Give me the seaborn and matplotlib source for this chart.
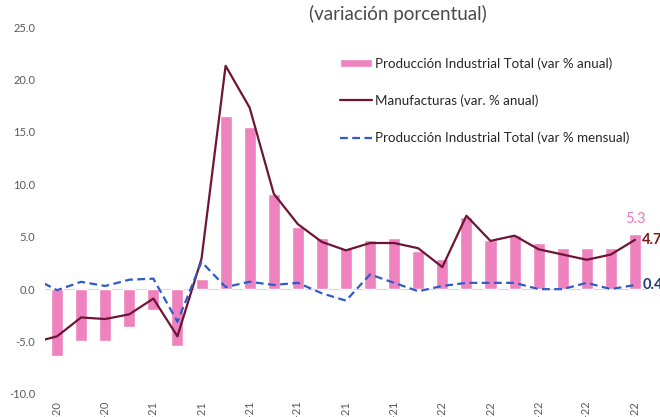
import matplotlib
matplotlib.use('Agg')
import pandas as pd
import matplotlib.pyplot as plt
import seaborn as sns

# monthly data, first month only feeds the clipped start of the lines
months = ['ago-20', 'sep-20', 'oct-20', 'nov-20', 'dic-20', 'ene-21', 'feb-21', 'mar-21',
          'abr-21', 'may-21', 'jun-21', 'jul-21', 'ago-21', 'sep-21', 'oct-21', 'nov-21',
          'dic-21', 'ene-22', 'feb-22', 'mar-22', 'abr-22', 'may-22', 'jun-22', 'jul-22',
          'ago-22', 'sep-22']
prod_anual = [None, -6.4, -4.9, -4.9, -3.6, -2.0, -5.4, 1.0, 16.5, 15.5, 9.1, 5.9, 4.9,
              3.9, 4.7, 4.9, 3.6, 2.9, 6.9, 4.7, 5.2, 4.4, 3.9, 3.9, 3.9, 5.3]
manuf_anual = [-5.1, -4.5, -2.7, -2.85, -2.4, -0.9, -4.5, 2.9, 21.3, 17.3, 9.1, 6.2, 4.5,
               3.7, 4.4, 4.4, 3.9, 2.1, 7.0, 4.6, 5.1, 3.8, 3.3, 2.8, 3.3, 4.7]
prod_mensual = [1.1, -0.1, 0.7, 0.3, 0.9, 1.0, -3.1, 2.6, 0.2, 0.7, 0.4, 0.6, -0.4,
                -1.1, 1.4, 0.6, -0.2, 0.3, 0.6, 0.6, 0.6, 0.0, 0.0, 0.6, 0.0, 0.4]

df = pd.DataFrame({'pos': range(len(months)), 'mes': months,
                   'anual': prod_anual, 'manuf': manuf_anual, 'mensual': prod_mensual})

sns.set_style('white')
plt.rcParams['font.family'] = ['Lato', 'DejaVu Sans']

fig = plt.figure(figsize=(6.6, 4.17), dpi=100)
ax = fig.add_axes([45 / 660, 1 - 394 / 417, 602 / 660, 367 / 417])

ax.axhline(0, color='#d9d9d9', lw=0.8, zorder=0)
sns.barplot(data=df, x='pos', y='anual', order=list(df['pos']), color='#ee82be',
            saturation=1, width=0.5, ax=ax, label='Producción Industrial Total (var % anual)',
            zorder=2)
sns.lineplot(data=df, x='pos', y='manuf', color='#6e1535', lw=1.6, ax=ax,
             label='Manufacturas (var. % anual)', zorder=3)
sns.lineplot(data=df, x='pos', y='mensual', color='#2f5bc9', lw=1.6, ax=ax,
             linestyle=(0, (3.5, 2)), label='Producción Industrial Total (var % mensual)',
             zorder=3)

ax.set_xlim(0.5, len(months) - 0.5)
ax.set_ylim(-10, 25)
ax.set_yticks(range(-10, 26, 5))
ax.set_yticklabels([f'{v:.1f}' for v in range(-10, 26, 5)])
tick_pos = list(range(1, len(months), 2))
ax.set_xticks(tick_pos)
ax.set_xticklabels([months[i] for i in tick_pos], rotation=90)
ax.tick_params(axis='y', length=0, pad=7, labelsize=8, labelcolor='#595959')
ax.tick_params(axis='x', length=0, pad=5, labelsize=8, labelcolor='#595959')
ax.set_xlabel('')
ax.set_ylabel('')
for s in ax.spines.values():
    s.set_visible(False)

last = len(months) - 1
ax.text(last, prod_anual[last] + 0.7, f'{prod_anual[last]:.1f}', color='#e87ab8',
        ha='center', va='bottom', fontsize=10.5)
ax.text(last + 0.3, manuf_anual[last], f'{manuf_anual[last]:.1f}', color='#7b1a1a',
        ha='left', va='center', fontsize=10.5, fontweight='bold', clip_on=False)
ax.text(last + 0.3, prod_mensual[last], f'{prod_mensual[last]:.1f}', color='#1f3a7a',
        ha='left', va='center', fontsize=10.5, fontweight='bold', clip_on=False)

fig.text(398 / 660, 1 - 14 / 417, '(variación porcentual)', ha='center', va='center',
         fontsize=13.5, color='#4a4a4a')

handles, labels = ax.get_legend_handles_labels()
idx = [labels.index(l) for l in ['Producción Industrial Total (var % anual)',
                                 'Manufacturas (var. % anual)',
                                 'Producción Industrial Total (var % mensual)']]
leg = ax.legend([handles[i] for i in idx], [labels[i] for i in idx],
                loc='upper left', bbox_to_anchor=(328 / 660, 1 - 45 / 417),
                bbox_transform=fig.transFigure, frameon=False, fontsize=9.6,
                labelspacing=1.85, handlelength=2.4, handleheight=0.5, handletextpad=0.25)
for t in leg.get_texts():
    t.set_color('#262626')

fig.savefig('out.png', dpi=100)
